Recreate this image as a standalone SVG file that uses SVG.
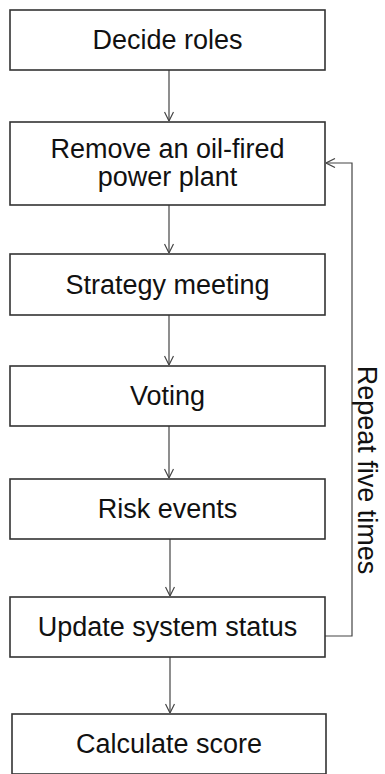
<svg xmlns="http://www.w3.org/2000/svg" width="385" height="774" viewBox="0 0 385 774">
<style>
.box rect{fill:#fff;stroke:#333;stroke-width:1.6}
.box text,.lbl{font-family:"Liberation Sans",Arial,sans-serif;font-size:27px;fill:#111;text-anchor:middle}
.conn path{fill:none;stroke:#444;stroke-width:1.2}
</style>
<defs>
<marker id="arr" viewBox="0 0 10 10" refX="10" refY="5" markerWidth="10" markerHeight="10" markerUnits="userSpaceOnUse" orient="auto">
<path d="M1,0.5 L10,5 L1,9.5" fill="none" stroke="#444" stroke-width="1.2"/>
</marker>
</defs>
<rect width="385" height="774" fill="#fff"/>
<g class="conn">
<path d="M169,70 V121" marker-end="url(#arr)"/>
<path d="M169,205 V253" marker-end="url(#arr)"/>
<path d="M169,315 V365" marker-end="url(#arr)"/>
<path d="M169,426 V478" marker-end="url(#arr)"/>
<path d="M170,539 V596" marker-end="url(#arr)"/>
<path d="M170,657 V713" marker-end="url(#arr)"/>
<path d="M325,636 H352 V163 H326" marker-end="url(#arr)"/>
</g>
<g id="n1" class="box"><rect x="10" y="10" width="315" height="60"/><text x="167.5" y="49">Decide roles</text></g>
<g id="n2" class="box"><rect x="10" y="122" width="315" height="83"/><text x="167.5" y="158">Remove an oil-fired</text><text x="167.5" y="186">power plant</text></g>
<g id="n3" class="box"><rect x="10" y="254" width="315" height="61"/><text x="167.5" y="294">Strategy meeting</text></g>
<g id="n4" class="box"><rect x="10" y="366" width="315" height="60"/><text x="167.5" y="405">Voting</text></g>
<g id="n5" class="box"><rect x="10" y="479" width="315" height="60"/><text x="167.5" y="518">Risk events</text></g>
<g id="n6" class="box"><rect x="10" y="597" width="315" height="60"/><text x="167.5" y="636">Update system status</text></g>
<g id="n7" class="box"><rect x="12" y="714" width="314" height="60"/><text x="169" y="753">Calculate score</text></g>
<text class="lbl" transform="translate(358,470) rotate(90)">Repeat five times</text>
</svg>
